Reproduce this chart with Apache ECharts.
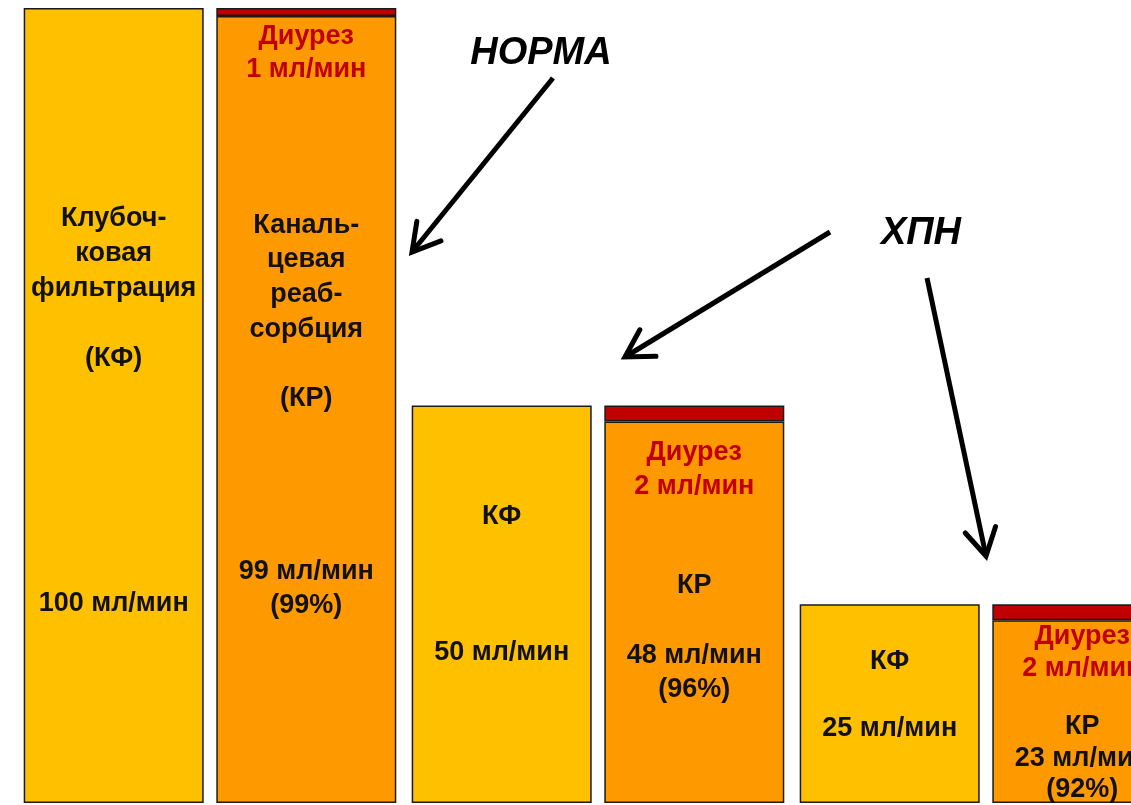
<!DOCTYPE html>
<html>
<head>
<meta charset="utf-8">
<script src="https://cdn.jsdelivr.net/npm/echarts@6/dist/echarts.min.js"></script>
<style>
  html, body { margin: 0; padding: 0; background: #ffffff; }
  #chart { width: 1131px; height: 805px; }
</style>
</head>
<body>
<div id="chart"></div>
<script>
// Почечные показатели: норма и две стадии ХПН (мл/мин)
const groups = ['Норма', 'ХПН I', 'ХПН II'];
const filtration = [100, 50, 25];     // клубочковая фильтрация, КФ
const reabsorption = [99, 48, 23];    // канальцевая реабсорбция, КР
const diuresis = [1, 2, 2];           // диурез
const filtrationNames = ['Клубоч-\nковая\nфильтрация\n\n(КФ)', 'КФ', 'КФ'];
const reabsorptionNames = ['Каналь-\nцевая\nреаб-\nсорбция\n\n(КР)', 'КР', 'КР'];
const diuresisName = 'Диурез';

// Text layout inside the columns: blank lines before the value, distance from the column top, line height
const kfText = [
  { blank: 6, distance: 193, lh: 35 },
  { blank: 3, distance: 94, lh: 34 },
  { blank: 1, distance: 41, lh: 33.5 }
];
const krText = [
  { blank: 4, distance: 192, lh: 34.6 },
  { blank: 1, distance: 147, lh: 34.7 },
  { blank: 0, distance: 91, lh: 31.5 }
];
const diText = [
  { distance: 12, lh: 33 },
  { distance: 30, lh: 34 },
  { distance: 16, lh: 32 }
];

const FONT = '"Liberation Sans", Arial, sans-serif';
const C_KF = '#FFC000', C_KR = '#FF9900', C_DI = '#C00000';
const nl = n => '\n'.repeat(n);

const baseItem = { borderColor: '#1a1a1a', borderWidth: 1.5 };
const baseLabel = {
  show: true, position: 'insideTop', fontFamily: FONT, fontWeight: 'bold',
  fontSize: 27, color: '#111111', align: 'center'
};

const kfData = filtration.map((v, i) => ({
  value: v,
  label: Object.assign({}, baseLabel, {
    distance: kfText[i].distance, lineHeight: kfText[i].lh,
    formatter: filtrationNames[i] + nl(kfText[i].blank + 1) + v + ' мл/мин'
  })
}));

const krData = reabsorption.map((v, i) => ({
  value: v,
  label: Object.assign({}, baseLabel, {
    distance: krText[i].distance, lineHeight: krText[i].lh,
    formatter: reabsorptionNames[i] + nl(krText[i].blank + 1) + v + ' мл/мин\n(' +
      Math.round(v / filtration[i] * 100) + '%)'
  })
}));

const diData = diuresis.map((v, i) => ({
  value: v,
  label: Object.assign({}, baseLabel, {
    distance: diText[i].distance, lineHeight: diText[i].lh, color: C_DI,
    formatter: diuresisName + '\n' + v + ' мл/мин'
  })
}));

// Annotation arrows (open V heads)
const arrows = [
  { from: [553, 78], to: [412, 252] },
  { from: [830, 232], to: [625, 357] },
  { from: [927, 278], to: [986, 556] }
];
const arrowGraphics = [];
arrows.forEach(a => {
  const dx = a.from[0] - a.to[0], dy = a.from[1] - a.to[1];
  const len = Math.hypot(dx, dy), ux = dx / len, uy = dy / len;
  const head = 31, ang = 30 * Math.PI / 180;
  const rot = (x, y, t) => [x * Math.cos(t) - y * Math.sin(t), x * Math.sin(t) + y * Math.cos(t)];
  const r1 = rot(ux, uy, ang), r2 = rot(ux, uy, -ang);
  arrowGraphics.push({
    type: 'line', silent: true,
    shape: { x1: a.from[0], y1: a.from[1], x2: a.to[0], y2: a.to[1] },
    style: { stroke: '#000', lineWidth: 5, lineCap: 'butt' }
  });
  arrowGraphics.push({
    type: 'polyline', silent: true,
    shape: { points: [
      [a.to[0] + r1[0] * head, a.to[1] + r1[1] * head],
      [a.to[0], a.to[1]],
      [a.to[0] + r2[0] * head, a.to[1] + r2[1] * head]
    ] },
    style: { stroke: '#000', lineWidth: 5, lineJoin: 'miter', lineCap: 'round', fill: null }
  });
});

const titleFont = 'italic bold 38px ' + FONT;
const titles = [
  { text: 'НОРМА', x: 541, y: 54 },
  { text: 'ХПН', x: 921, y: 234 }
];
const titleGraphics = titles.map(t => ({
  type: 'text', silent: true, x: t.x, y: t.y,
  style: { text: t.text, font: titleFont, fill: '#000', align: 'center', verticalAlign: 'middle' }
}));

const chart = echarts.init(document.getElementById('chart'), null, { renderer: 'canvas' });
chart.setOption({
  animation: false,
  backgroundColor: '#ffffff',
  // the last column runs past the right edge of the canvas
  grid: { left: 16, width: 1164, top: 8, bottom: 2, containLabel: false, outerBoundsMode: 'none' },
  xAxis: {
    type: 'category', data: groups,
    axisLine: { show: false }, axisTick: { show: false }, axisLabel: { show: false }
  },
  yAxis: {
    type: 'value', min: 0, max: 100,
    axisLine: { show: false }, axisTick: { show: false }, axisLabel: { show: false },
    splitLine: { show: false }
  },
  series: [
    {
      name: 'КФ', type: 'bar', barWidth: 180, barGap: '7%',
      itemStyle: Object.assign({ color: C_KF }, baseItem),
      data: kfData
    },
    {
      name: 'КР', type: 'bar', stack: 'urine', barWidth: 180,
      itemStyle: Object.assign({ color: C_KR }, baseItem),
      data: krData
    },
    {
      name: 'Диурез', type: 'bar', stack: 'urine', barWidth: 180,
      itemStyle: Object.assign({ color: C_DI }, baseItem),
      data: diData, z: 3
    }
  ],
  graphic: arrowGraphics.concat(titleGraphics)
});
</script>
</body>
</html>
